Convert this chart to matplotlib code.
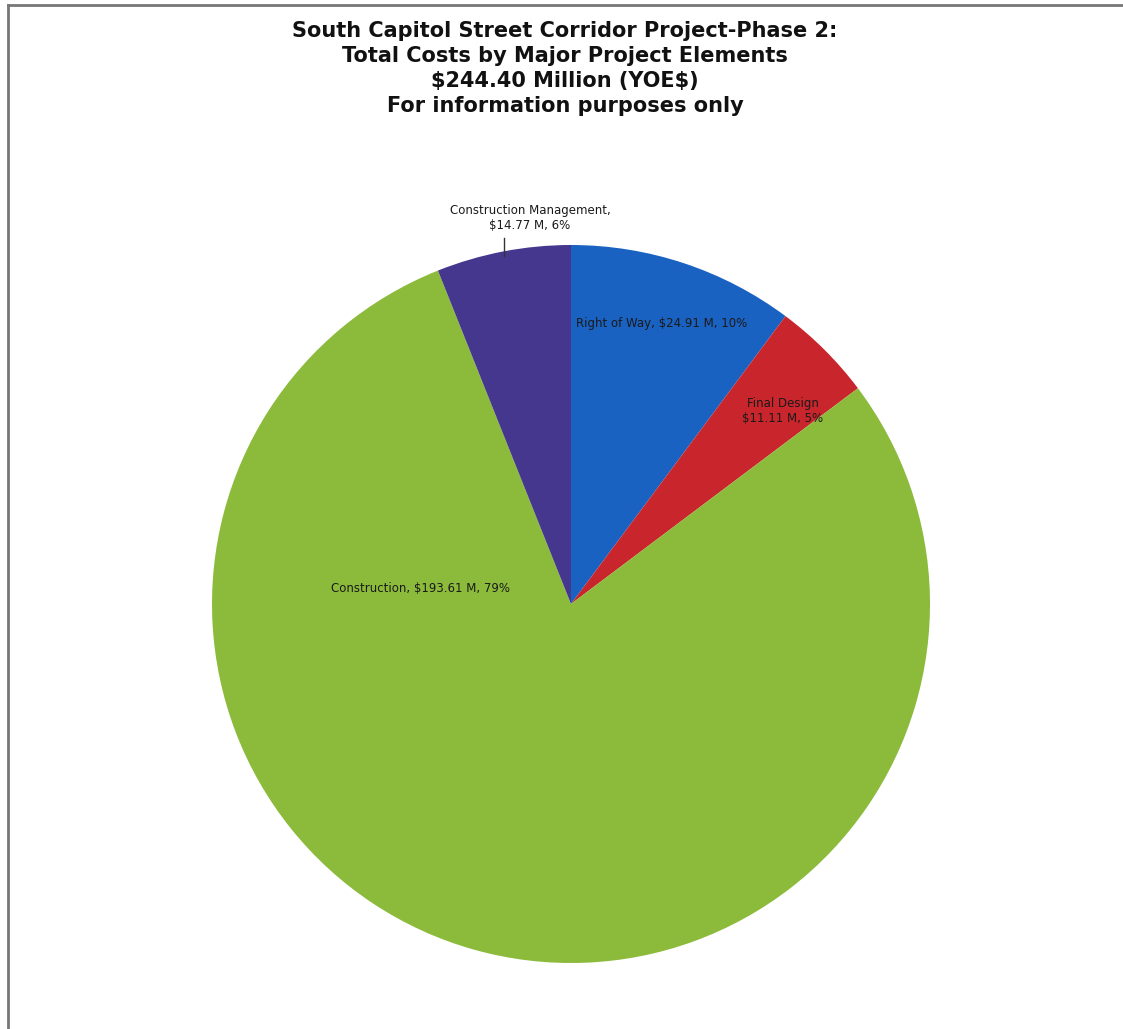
import matplotlib
matplotlib.use("Agg")
import matplotlib.pyplot as plt
from matplotlib.lines import Line2D

plt.rcParams["font.family"] = ["DejaVu Sans"]
plt.rcParams["text.parse_math"] = False

elements = ["Right of Way", "Final Design", "Construction", "Construction Management"]
costs = [24.91, 11.11, 193.61, 14.77]  # $ millions, YOE
colors = ["#1a62c2", "#c9252c", "#8cbb3c", "#45368e"]
total = sum(costs)

title_lines = [
    "South Capitol Street Corridor Project-Phase 2:",
    "Total Costs by Major Project Elements",
    "${:.2f} Million (YOE$)".format(total),
    "For information purposes only",
]

W, H = 1123, 1029
fig = plt.figure(figsize=(W / 100, H / 100), dpi=100)
ax = fig.add_axes([0, 0, 1, 1])

cx, cy, r = 571, H - 604, 359
ax.pie(costs, colors=colors, startangle=90, counterclock=False,
       center=(cx, cy), radius=r, frame=True,
       wedgeprops=dict(linewidth=0))
ax.set_xlim(0, W)
ax.set_ylim(0, H)
ax.set_aspect("equal")
ax.axis("off")

pct = [round(c / total * 100) for c in costs]
lab = ["{}, ${:.2f} M, {}%".format(e, c, p) for e, c, p in zip(elements, costs, pct)]

fs = 8.5
ax.text(576, H - 324, lab[0], fontsize=fs, color="#1a1a1a", va="center", ha="left")
ax.text(783, H - 411, "{}\n${:.2f} M, {}%".format(elements[1], costs[1], pct[1]),
        fontsize=fs, color="#1a1a1a", va="center", ha="center", linespacing=1.15)
ax.text(331, H - 588, lab[2], fontsize=fs, color="#1a1a1a", va="center", ha="left")
ax.text(530, H - 218, "{},\n${:.2f} M, {}%".format(elements[3], costs[3], pct[3]),
        fontsize=fs, color="#1a1a1a", va="center", ha="center", linespacing=1.15)
ax.add_line(Line2D([504, 504], [H - 238, H - 256], color="#333333", lw=1))

for i, t in enumerate(title_lines):
    ax.text(565, H - 31 - i * 25, t, fontsize=15, fontweight="bold",
            color="#111111", ha="center", va="center")

# frame lines along top and left
ax.add_line(Line2D([8, W], [H - 5, H - 5], color="#777777", lw=2))
ax.add_line(Line2D([8, 8], [0, H - 5], color="#777777", lw=2))

fig.savefig("out.png", dpi=100)
